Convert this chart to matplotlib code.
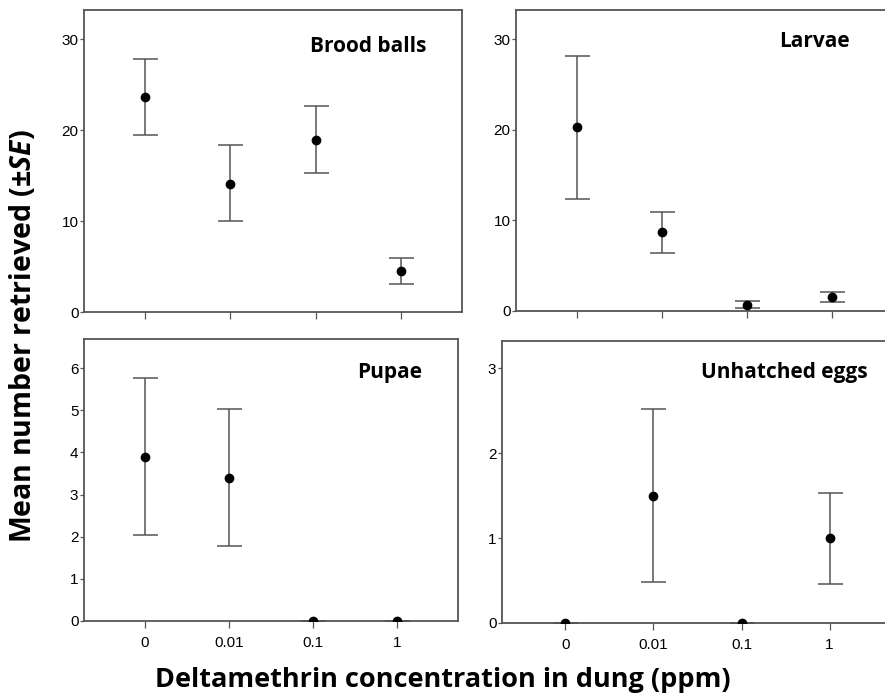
import numpy as np
import matplotlib
matplotlib.use("Agg")
import matplotlib.pyplot as plt

# concentration categories (ppm)
conc_labels = ["0", "0.01", "0.1", "1"]

# mean and upper / lower SE limits
brood_mean = [23.6, 14.1, 18.9, 4.5]
brood_hi = [27.8, 18.4, 22.6, 5.9]
brood_lo = [19.5, 10.0, 15.3, 3.1]

larvae_mean = [20.3, 8.7, 0.7, 1.5]
larvae_hi = [28.1, 10.95, 1.1, 2.05]
larvae_lo = [12.4, 6.45, 0.3, 0.95]

pupae_mean = [3.9, 3.4, 0.0, 0.0]
pupae_hi = [5.76, 5.04, 0.0, 0.0]
pupae_lo = [2.04, 1.77, 0.0, 0.0]

eggs_mean = [0.0, 1.5, 0.0, 1.0]
eggs_hi = [0.0, 2.52, 0.0, 1.53]
eggs_lo = [0.0, 0.48, 0.0, 0.46]

W, H = 885, 699
plt.rcParams['font.family'] = ['Liberation Sans', 'DejaVu Sans']
plt.rcParams['mathtext.fontset'] = 'custom'
plt.rcParams['mathtext.it'] = 'Open Sans:bold:italic'
plt.rcParams['mathtext.rm'] = 'Open Sans:bold'

fig = plt.figure(figsize=(W / 100, H / 100), dpi=100)


def px_axes(left, right, top, bottom):
    return fig.add_axes([left / W, 1 - bottom / H, (right - left) / W, (bottom - top) / H])


def panel(ax, mean, hi, lo, title, ylim, yticks, show_xlabels):
    x = np.arange(len(mean))
    mean = np.array(mean)
    yerr = np.vstack([mean - np.array(lo), np.array(hi) - mean])
    ax.errorbar(x, mean, yerr=yerr, fmt='none', ecolor='#555555', elinewidth=1.1,
                capsize=9, capthick=1.1, zorder=2)
    ax.plot(x, mean, 'o', color='black', markersize=6, zorder=3)
    ax.set_xlim(-0.72, 3.72)
    ax.set_ylim(*ylim)
    ax.set_yticks(yticks)
    ax.set_xticks(x)
    if show_xlabels:
        ax.set_xticklabels(conc_labels)
    else:
        ax.set_xticklabels([])
    for s in ax.spines.values():
        s.set_color('#555555')
        s.set_linewidth(1.3)
    ax.tick_params(axis='y', length=3, width=0.9, color='#555555', labelsize=11, pad=1)
    ax.tick_params(axis='x', length=5, width=0.9, color='#555555', labelsize=11, pad=6)
    ax.text(0.905, 0.88, title, transform=ax.transAxes, ha='right', va='center',
            fontsize=15, fontweight='bold', family='Open Sans')


ax1 = px_axes(84, 462, 10, 312)
panel(ax1, brood_mean, brood_hi, brood_lo, "Brood balls", (0, 33.2), [0, 10, 20, 30], False)

ax2 = px_axes(516, 893, 10, 311)
panel(ax2, larvae_mean, larvae_hi, larvae_lo, "Larvae", (0, 33.2), [0, 10, 20, 30], False)
ax2.texts[0].set_position((0.885, 0.895))

ax3 = px_axes(84, 458, 339, 621)
panel(ax3, pupae_mean, pupae_hi, pupae_lo, "Pupae", (0, 6.69), [0, 1, 2, 3, 4, 5, 6], True)

ax4 = px_axes(502, 893, 341, 623)
panel(ax4, eggs_mean, eggs_hi, eggs_lo, "Unhatched eggs", (0, 3.32), [0, 1, 2, 3], True)
ax4.texts[0].set_position((0.935, 0.89))

fig.text(23 / W, 1 - 336 / H, r'Mean number retrieved (±$SE$)', rotation=90,
         ha='center', va='center', fontsize=20.5, fontweight='bold', family='Open Sans')
fig.text(443 / W, 1 - 680 / H, 'Deltamethrin concentration in dung (ppm)',
         ha='center', va='center', fontsize=19.5, fontweight='bold', family='Open Sans')

fig.savefig('out.png', dpi=100)
